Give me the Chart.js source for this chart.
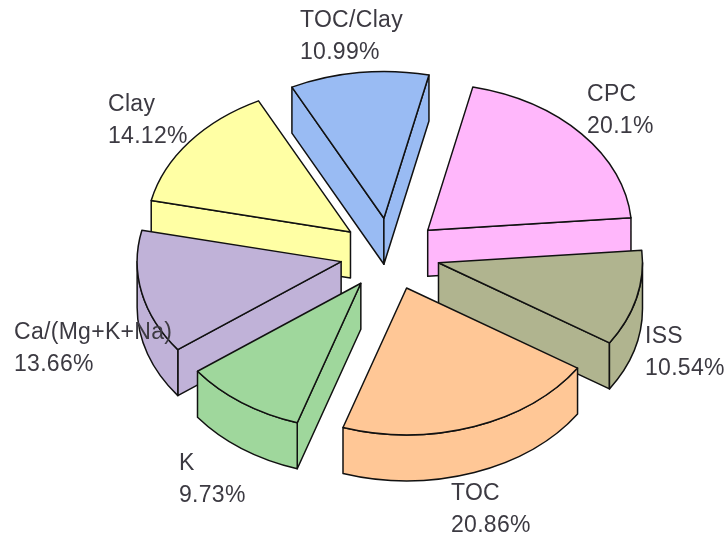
<!DOCTYPE html>
<html>
<head>
<meta charset="utf-8">
<title>Pie</title>
<script src="https://cdn.jsdelivr.net/npm/chart.js@4"></script>
<style>
html, body { margin: 0; padding: 0; background: #fff; }
canvas { display: block; }
</style>
</head>
<body>
<canvas id="pie3d" width="725" height="535"></canvas>
<script>
// data, clockwise from TOC/Clay
const categories = ['TOC/Clay', 'CPC', 'ISS', 'TOC', 'K', 'Ca/(Mg+K+Na)', 'Clay'];
const shares = [10.99, 20.1, 10.54, 20.86, 9.73, 13.66, 14.12];
const sliceColors = ['#99BBF3', '#FFB7FB', '#B0B48F', '#FFC796', '#9FD79C', '#C0B2D8', '#FFFFA4'];

// top left of each label: x, baseline of first line
const labelAnchors = [[300, 27], [587, 101], [645, 343], [451, 500], [179, 470], [14, 339], [108, 111]];

const TILT = 0.72;     // ellipse height / width
const DEPTH = 46;      // thickness of the pie in px
const EXPLODE = 50;    // how far each slice is pulled out

function norm(a) {
    const t = Math.PI * 2;
    return ((a % t) + t) % t;
}

// path for the side of a slice between two points of the rim
function wallPath(ctx, x, y, r, from, to) {
    ctx.beginPath();
    ctx.ellipse(x, y, r, r * TILT, 0, from, to);
    ctx.ellipse(x, y + DEPTH, r, r * TILT, 0, to, from, true);
    ctx.closePath();
}

function paint(ctx, color) {
    ctx.fillStyle = color;
    ctx.fill();
    ctx.stroke();
}

const pie3d = {
    id: 'pie3d',
    beforeDatasetsDraw(chart) {
        const ctx = chart.ctx;
        const arcs = chart.getDatasetMeta(0).data.map((arc, i) => {
            const p = arc.getProps(['x', 'y', 'startAngle', 'endAngle', 'outerRadius']);
            const mid = (p.startAngle + p.endAngle) / 2;
            return {
                i: i,
                start: p.startAngle,
                end: p.endAngle,
                r: p.outerRadius,
                mid: mid,
                x: p.x + Math.cos(mid) * EXPLODE,
                y: p.y + Math.sin(mid) * EXPLODE * TILT
            };
        });
        // back slices first
        arcs.sort((a, b) => Math.sin(a.mid) - Math.sin(b.mid));

        ctx.save();
        ctx.strokeStyle = '#111';
        ctx.lineWidth = 1.5;
        ctx.lineJoin = 'round';
        arcs.forEach(s => {
            const color = sliceColors[s.i];
            // radial walls
            [s.start, s.end].forEach((a, side) => {
                const ex = s.x + Math.cos(a) * s.r;
                const ey = s.y + Math.sin(a) * s.r * TILT;
                // faces the viewer when its outward normal points down
                const facing = side === 0 ? Math.cos(a) < 0 : Math.cos(a) > 0;
                if (!facing) return;
                ctx.beginPath();
                ctx.moveTo(s.x, s.y);
                ctx.lineTo(ex, ey);
                ctx.lineTo(ex, ey + DEPTH);
                ctx.lineTo(s.x, s.y + DEPTH);
                ctx.closePath();
                paint(ctx, color);
            });
            // rim, only the part on the near half of the ellipse
            const base = s.start - norm(s.start);
            for (let n = -1; n < 3; n++) {
                const a = Math.max(s.start, base + n * Math.PI * 2);
                const b = Math.min(s.end, base + n * Math.PI * 2 + Math.PI);
                if (b > a) {
                    wallPath(ctx, s.x, s.y, s.r, a, b);
                    paint(ctx, color);
                }
            }
            // top face
            ctx.beginPath();
            ctx.moveTo(s.x, s.y);
            ctx.ellipse(s.x, s.y, s.r, s.r * TILT, 0, s.start, s.end);
            ctx.closePath();
            paint(ctx, color);
        });
        ctx.restore();
        return false;
    },
    // afterDatasetsDraw is skipped once the draw above is cancelled
    afterDraw(chart) {
        const ctx = chart.ctx;
        ctx.save();
        ctx.fillStyle = '#3c3a42';
        ctx.font = '23px "Liberation Sans"';
        ctx.letterSpacing = '0.3px';
        ctx.textBaseline = 'alphabetic';
        categories.forEach((name, i) => {
            const [x, y] = labelAnchors[i];
            ctx.fillText(name, x, y);
            ctx.fillText(shares[i] + '%', x, y + 32);
        });
        ctx.restore();
    }
};

const config = {
    type: 'pie',
    data: {
        labels: categories,
        datasets: [{
            data: shares,
            backgroundColor: sliceColors,
            borderWidth: 0
        }]
    },
    options: {
        responsive: false,
        animation: false,
        rotation: 333.2,
        layout: { padding: { left: 55, right: 0, top: 50, bottom: 77 } },
        plugins: {
            legend: { display: false },
            tooltip: { enabled: false }
        }
    },
    plugins: [pie3d]
};

new Chart(document.getElementById('pie3d').getContext('2d'), config);
</script>
</body>
</html>
